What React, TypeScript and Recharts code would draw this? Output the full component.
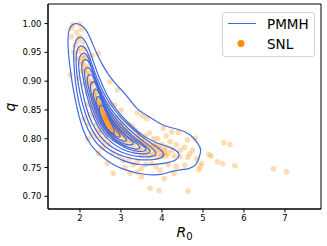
import { ScatterChart, Scatter, XAxis, YAxis, Legend, ReferenceArea } from "recharts";

const xTicks = [2, 3, 4, 5, 6, 7];
const yTicks = [0.7, 0.75, 0.8, 0.85, 0.9, 0.95, 1.0];

// SNL posterior samples, [R0, q]
const snlSamples = [
  // upper tail
  [1.78, 0.992], [1.82, 0.998], [1.98, 0.999], [2.04, 0.99], [1.92, 0.985], [1.79, 0.977],
  [2.0, 0.977], [1.95, 0.97], [2.08, 0.968], [1.88, 0.962], [2.02, 0.958], [1.97, 0.952],
  [2.12, 0.955], [2.06, 0.945], [1.9, 0.94], [2.15, 0.94], [2.45, 0.948], [2.3, 0.945],
  [1.77, 0.911], [2.0, 0.935], [2.1, 0.928], [2.2, 0.925], [2.05, 0.918], [2.25, 0.915],
  [1.95, 0.905], [2.15, 0.905], [2.3, 0.9], [2.1, 0.895], [2.22, 0.89], [2.35, 0.895],
  [2.73, 0.899], [2.4, 0.885], [1.85, 0.95],
  [2.15, 0.915], [2.2, 0.9], [2.25, 0.895], [2.28, 0.885], [2.33, 0.88], [2.12, 0.92],
  [2.18, 0.91], [2.05, 0.93], [2.08, 0.94],
  // middle
  [2.91, 0.885], [2.18, 0.88], [2.28, 0.875], [2.38, 0.878], [2.45, 0.87], [2.32, 0.865],
  [2.5, 0.88], [2.2, 0.86], [2.42, 0.86], [2.55, 0.862], [2.3, 0.855], [2.48, 0.852],
  [2.6, 0.855], [2.38, 0.848], [2.52, 0.846], [2.65, 0.85], [2.75, 0.862], [2.85, 0.858],
  [2.25, 0.842], [2.45, 0.843], [2.58, 0.84], [2.7, 0.843], [3.0, 0.85], [3.4, 0.845],
  [3.63, 0.835], [3.52, 0.84], [2.1, 0.835], [2.2, 0.825], [2.35, 0.838],
  [2.42, 0.865], [2.46, 0.86], [2.5, 0.865], [2.44, 0.85], [2.39, 0.87], [2.35, 0.875],
  [2.4, 0.855], [2.47, 0.855], [2.52, 0.858],
  // core
  [2.5, 0.838], [2.55, 0.835], [2.6, 0.832], [2.62, 0.838], [2.65, 0.835], [2.68, 0.83],
  [2.7, 0.836], [2.72, 0.828], [2.58, 0.828], [2.63, 0.825], [2.66, 0.822], [2.75, 0.825],
  [2.78, 0.832], [2.8, 0.82], [2.7, 0.818], [2.6, 0.82], [2.55, 0.826], [2.85, 0.826],
  [2.88, 0.818], [2.92, 0.822], [2.95, 0.815], [2.82, 0.812], [2.75, 0.81], [2.68, 0.812],
  [3.0, 0.818], [3.05, 0.81], [3.1, 0.815], [3.15, 0.808], [2.98, 0.805], [2.9, 0.808],
  [3.2, 0.812], [3.25, 0.805], [3.3, 0.8], [3.08, 0.8], [2.65, 0.805], [2.45, 0.815],
  [2.4, 0.825], [2.52, 0.812], [3.35, 0.815], [3.45, 0.808], [3.18, 0.825], [3.05, 0.83],
  [2.95, 0.838], [2.74, 0.842], [2.66, 0.845], [2.57, 0.85], [2.48, 0.832], [2.85, 0.835],
  [3.28, 0.822],
  [2.58, 0.852], [2.62, 0.847], [2.68, 0.84], [2.72, 0.835], [2.77, 0.83], [2.82, 0.826],
  [2.87, 0.822], [2.92, 0.818], [2.97, 0.812], [3.02, 0.808], [2.55, 0.845], [2.6, 0.842],
  [2.64, 0.832], [2.69, 0.826], [2.74, 0.82], [2.79, 0.816], [2.84, 0.81], [2.5, 0.85],
  [2.56, 0.84], [2.61, 0.836], [2.67, 0.838], [2.73, 0.833], [2.79, 0.824], [2.83, 0.82],
  [2.9, 0.815], [2.94, 0.81], [2.53, 0.83], [2.59, 0.824], [2.71, 0.822], [2.76, 0.815],
  [2.87, 0.83], [2.93, 0.826], [3.0, 0.822], [3.06, 0.815], [3.12, 0.81], [2.62, 0.815],
  [2.7, 0.808], [2.8, 0.805], [3.15, 0.8], [3.22, 0.798], [3.35, 0.795],
  // lower right
  [3.4, 0.798], [3.5, 0.795], [3.6, 0.792], [3.7, 0.79], [3.8, 0.788], [3.9, 0.785],
  [3.55, 0.785], [3.65, 0.78], [3.75, 0.778], [3.85, 0.78], [3.95, 0.775], [4.0, 0.79],
  [4.05, 0.78], [4.1, 0.785], [3.45, 0.782], [3.3, 0.788], [3.2, 0.792], [3.1, 0.79],
  [3.0, 0.795], [2.9, 0.798], [2.8, 0.8], [3.35, 0.778], [3.5, 0.772], [3.7, 0.77],
  [3.9, 0.768], [4.0, 0.77], [4.15, 0.775], [4.25, 0.78], [4.2, 0.795], [4.03, 0.818],
  [4.24, 0.812], [4.4, 0.811], [4.62, 0.798], [4.81, 0.801], [4.35, 0.79], [4.45, 0.78],
  [4.55, 0.785], [4.44, 0.769], [4.63, 0.768], [4.68, 0.774], [4.3, 0.77], [3.8, 0.8],
  [3.6, 0.805], [3.7, 0.81], [3.9, 0.8], [4.1, 0.805], [2.7, 0.79], [2.6, 0.795],
  [2.5, 0.8], [2.4, 0.805], [2.3, 0.81],
  [3.45, 0.79], [3.55, 0.795], [3.65, 0.788], [3.75, 0.785], [3.85, 0.79], [3.95, 0.782],
  [4.05, 0.775], [3.6, 0.775], [3.8, 0.772], [4.1, 0.77], [3.4, 0.805], [3.5, 0.8],
  // bottom
  [2.45, 0.775], [2.67, 0.757], [2.8, 0.775], [2.95, 0.77], [3.05, 0.762], [3.2, 0.765],
  [3.3, 0.755], [3.4, 0.76], [3.22, 0.74], [3.5, 0.748], [3.6, 0.755], [3.75, 0.758],
  [3.85, 0.752], [3.5, 0.734], [3.4, 0.742], [2.81, 0.74], [3.1, 0.75], [4.06, 0.731],
  [3.95, 0.745], [4.15, 0.755], [4.35, 0.752], [4.56, 0.754], [4.3, 0.74], [2.55, 0.785],
  [2.2, 0.8],
  // outliers
  [6.72, 0.748], [7.04, 0.743], [5.78, 0.753], [5.51, 0.793], [5.66, 0.79], [5.14, 0.773],
  [5.2, 0.77], [5.35, 0.76], [5.48, 0.757], [4.97, 0.757], [4.93, 0.752], [4.9, 0.746],
  [3.71, 0.714], [3.93, 0.71], [4.64, 0.709], [4.75, 0.78], [4.85, 0.765],
];

// PMMH density contours, outermost first, [R0, q]
const pmmhLevel1 = [
  [1.715, 0.992], [1.878, 1.003], [2.081, 0.996], [2.179, 0.986], [2.285, 0.969], [2.407, 0.948],
  [2.528, 0.931], [2.691, 0.911], [2.894, 0.893], [3.138, 0.876], [3.382, 0.85], [3.707, 0.838],
  [4.033, 0.821], [4.358, 0.818], [4.683, 0.809], [4.886, 0.792], [4.967, 0.78], [4.911, 0.769],
  [4.846, 0.754], [4.683, 0.748], [4.439, 0.746], [4.195, 0.743], [3.992, 0.737], [3.707, 0.737],
  [3.382, 0.74], [3.098, 0.746], [2.813, 0.754], [2.528, 0.769], [2.244, 0.789], [2.065, 0.815],
  [1.935, 0.85], [1.821, 0.89], [1.74, 0.931], [1.699, 0.966],
];
const pmmhLevel2 = [
  [1.976, 0.979], [2.098, 0.974], [2.203, 0.96], [2.325, 0.934], [2.472, 0.905], [2.65, 0.876],
  [2.878, 0.85], [3.179, 0.827], [3.504, 0.806], [3.87, 0.792], [4.236, 0.785], [4.439, 0.776],
  [4.398, 0.764], [4.154, 0.758], [3.829, 0.755], [3.504, 0.754], [3.179, 0.758], [2.854, 0.768],
  [2.528, 0.782], [2.285, 0.802], [2.098, 0.83], [1.959, 0.864], [1.878, 0.902], [1.837, 0.94],
  [1.854, 0.966],
];
const pmmhLevel3 = [
  [2.041, 0.963], [2.146, 0.957], [2.244, 0.94], [2.366, 0.914], [2.512, 0.888], [2.715, 0.861],
  [2.976, 0.838], [3.301, 0.815], [3.667, 0.795], [3.951, 0.783], [4.073, 0.773], [3.992, 0.766],
  [3.748, 0.763], [3.423, 0.763], [3.098, 0.768], [2.772, 0.777], [2.488, 0.793], [2.285, 0.815],
  [2.122, 0.844], [2.0, 0.876], [1.919, 0.911], [1.894, 0.943], [1.943, 0.959],
];
const pmmhLevel4 = [
  [2.081, 0.951], [2.179, 0.946], [2.268, 0.928], [2.382, 0.904], [2.528, 0.878], [2.732, 0.853],
  [2.992, 0.83], [3.301, 0.809], [3.626, 0.791], [3.854, 0.779], [3.87, 0.771], [3.667, 0.768],
  [3.341, 0.769], [3.016, 0.776], [2.715, 0.787], [2.472, 0.805], [2.285, 0.827], [2.146, 0.854],
  [2.041, 0.888], [1.967, 0.919], [1.959, 0.941],
];
const pmmhLevel5 = [
  [2.146, 0.939], [2.228, 0.933], [2.317, 0.917], [2.431, 0.892], [2.577, 0.867], [2.78, 0.843],
  [3.041, 0.821], [3.341, 0.801], [3.626, 0.786], [3.748, 0.777], [3.626, 0.773], [3.341, 0.774],
  [3.016, 0.781], [2.732, 0.795], [2.504, 0.812], [2.341, 0.835], [2.203, 0.864], [2.098, 0.896],
  [2.033, 0.922], [2.049, 0.935],
];
const pmmhLevel6 = [
  [2.203, 0.925], [2.276, 0.919], [2.366, 0.904], [2.48, 0.88], [2.634, 0.856], [2.837, 0.832],
  [3.098, 0.812], [3.382, 0.795], [3.61, 0.785], [3.626, 0.779], [3.423, 0.777], [3.122, 0.783],
  [2.829, 0.795], [2.585, 0.81], [2.407, 0.832], [2.268, 0.859], [2.163, 0.888], [2.098, 0.911],
  [2.114, 0.922],
];
const pmmhLevel7 = [
  [2.244, 0.914], [2.325, 0.908], [2.407, 0.892], [2.528, 0.868], [2.683, 0.844], [2.894, 0.822],
  [3.163, 0.803], [3.407, 0.791], [3.504, 0.783], [3.341, 0.781], [3.073, 0.787], [2.813, 0.799],
  [2.593, 0.815], [2.431, 0.835], [2.309, 0.86], [2.211, 0.888], [2.154, 0.905],
];
const pmmhLevel8 = [
  [2.325, 0.902], [2.398, 0.895], [2.48, 0.879], [2.593, 0.857], [2.756, 0.834], [2.976, 0.814],
  [3.22, 0.799], [3.341, 0.791], [3.22, 0.788], [2.976, 0.793], [2.732, 0.806], [2.545, 0.824],
  [2.407, 0.846], [2.293, 0.873], [2.228, 0.892],
];
const pmmhLevel9 = [
  [2.382, 0.889], [2.455, 0.882], [2.537, 0.866], [2.659, 0.844], [2.829, 0.824], [3.041, 0.806],
  [3.179, 0.797], [3.073, 0.794], [2.854, 0.802], [2.65, 0.816], [2.504, 0.835], [2.382, 0.86],
  [2.301, 0.879],
];
const pmmhLevel10 = [
  [2.447, 0.876], [2.52, 0.868], [2.61, 0.851], [2.74, 0.831], [2.911, 0.813], [3.016, 0.803],
  [2.911, 0.802], [2.715, 0.812], [2.569, 0.828], [2.455, 0.849], [2.366, 0.866],
];
const pmmhLevel11 = [
  [2.528, 0.861], [2.602, 0.853], [2.699, 0.835], [2.829, 0.818], [2.854, 0.808], [2.732, 0.81],
  [2.593, 0.824], [2.504, 0.84], [2.447, 0.853],
];

const pmmhLevels = [
  pmmhLevel1, pmmhLevel2, pmmhLevel3, pmmhLevel4, pmmhLevel5, pmmhLevel6,
  pmmhLevel7, pmmhLevel8, pmmhLevel9, pmmhLevel10, pmmhLevel11,
];

const toPoints = (arr: number[][]) => arr.map(([x, y]) => ({ x, y }));

const BLUE = "#4169e1";
const ORANGE = "#ff8c00";
const FONT = "DejaVu Sans";

const tickStyle = { fontFamily: FONT, fontSize: 8.5, fill: "#000" };

const Dot = (props: any) => (
  <circle cx={props.cx} cy={props.cy} r={2.8} fill={ORANGE} fillOpacity={0.3} />
);

const NoDot = () => <g />;

const LegendBox = () => (
  <div
    style={{
      position: "relative",
      width: 93,
      height: 45,
      boxSizing: "border-box",
      border: "1px solid #d4d4d4",
      borderRadius: 3,
      background: "rgba(255,255,255,0.8)",
    }}
  >
    <svg width={93} height={45} style={{ position: "absolute", left: -1, top: -1 }}>
      <line x1={6} x2={34} y1={11.5} y2={11.5} stroke={BLUE} strokeWidth={1} />
      <circle cx={19} cy={31.5} r={3.5} fill={ORANGE} />
      <text x={45} y={11.5} dominantBaseline="central" fontFamily={FONT} fontSize={13.5} fill="#000">
        PMMH
      </text>
      <text x={45} y={31.5} dominantBaseline="central" fontFamily={FONT} fontSize={13.5} fill="#000">
        SNL
      </text>
    </svg>
  </div>
);

const XLabel = (props: any) => {
  const vb = props.viewBox || { x: 48, y: 209, width: 273, height: 37 };
  return (
    <text x={vb.x + vb.width / 2} y={vb.y + 28} textAnchor="middle" fontFamily={FONT} fontSize={14} fill="#000">
      <tspan fontStyle="italic">R</tspan>
      <tspan fontSize={10} dy={3}>0</tspan>
    </text>
  );
};

const YLabel = () => (
  <text
    transform="translate(15, 107) rotate(-90)"
    textAnchor="middle"
    fontFamily={FONT}
    fontSize={14}
    fontStyle="italic"
    fill="#000"
  >
    q
  </text>
);

export default function App() {
  return (
    <div style={{ position: "absolute", left: 0, top: 0, background: "#fff" }}>
      <ScatterChart width={327} height={246} margin={{ top: 4, right: 6, bottom: 0, left: 0 }}>
        <XAxis
          type="number"
          dataKey="x"
          domain={[1.22, 7.88]}
          ticks={xTicks}
          allowDataOverflow
          height={37}
          tickSize={3.5}
          tickMargin={2}
          tick={tickStyle}
          stroke="#000"
          label={{ content: <XLabel /> }}
        />
        <YAxis
          type="number"
          dataKey="y"
          domain={[0.678, 1.034]}
          ticks={yTicks}
          allowDataOverflow
          width={48}
          tickSize={3.5}
          tickMargin={3}
          tick={tickStyle}
          tickFormatter={(v: number) => v.toFixed(2)}
          stroke="#000"
          label={{ content: <YLabel /> }}
        />
        <ReferenceArea
          x1={1.22}
          x2={7.88}
          y1={0.678}
          y2={1.034}
          fill="none"
          fillOpacity={0}
          stroke="#000"
          strokeWidth={1}
          strokeOpacity={1}
          ifOverflow="visible"
        />
        <Scatter
          name="SNL"
          data={toPoints(snlSamples)}
          shape={<Dot />}
          isAnimationActive={false}
        />
        {pmmhLevels.map((level, i) => (
          <Scatter
            key={i}
            name="PMMH"
            data={toPoints(level)}
            shape={<NoDot />}
            line={{ stroke: BLUE, strokeWidth: 1.2, fill: "none" }}
            lineJointType="basisClosed"
            isAnimationActive={false}
          />
        ))}
        <Legend
          layout="horizontal"
          align="center"
          verticalAlign="middle"
          wrapperStyle={{ left: 222, top: 12, width: 93, height: 45 }}
          content={<LegendBox />}
        />
      </ScatterChart>
    </div>
  );
}
